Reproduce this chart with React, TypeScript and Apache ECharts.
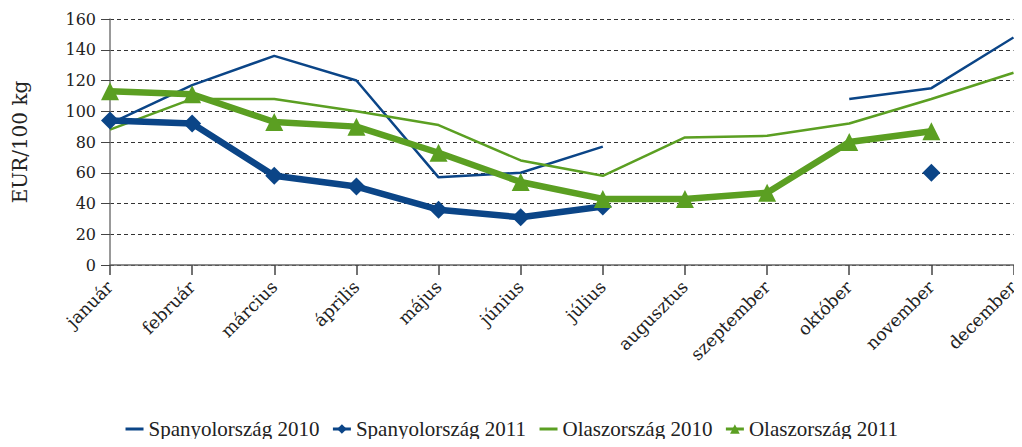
import React, { useEffect, useRef } from "react";
import * as echarts from "echarts";

const months = ["január", "február", "március", "április", "május", "június", "július", "augusztus", "szeptember", "október", "november", "december"];
const spain2010 = [92, 117, 136, 120, 57, 60, 77, null, null, 108, 115, 148];
const spain2011 = [94, 92, 58, 51, 36, 31, 38, null, null, null, 60, null];
const italy2010 = [88, 108, 108, 100, 91, 68, 58, 83, 84, 92, 108, 125];
const italy2011 = [113, 111, 93, 90, 73, 54, 43, 43, 47, 80, 87, null];
const yTicks = { min: 0, max: 160, interval: 20 };

const BLUE = "#0b4587";
const GREEN = "#5b9f22";
const AXIS_FONT = "DejaVu Serif";
const LEGEND_FONT = "Liberation Serif";

export default function App() {
  const ref = useRef<HTMLDivElement>(null);
  useEffect(() => {
    if (!ref.current) return;
    const chart = echarts.init(ref.current, null, { renderer: "svg" });
    chart.setOption({
      animation: false,
      textStyle: { fontFamily: AXIS_FONT },
      grid: { left: 110, right: 7, top: 19, bottom: 182 },
      legend: {
        top: 418,
        left: "center",
        padding: 0,
        itemGap: 12,
        itemWidth: 18,
        itemHeight: 12,
        textStyle: { fontFamily: LEGEND_FONT, fontSize: 21, color: "#222", lineHeight: 22 },
        data: [
          { name: "Spanyolország 2010", itemStyle: { opacity: 0 }, lineStyle: { width: 3 } },
          { name: "Spanyolország 2011", lineStyle: { width: 3 } },
          { name: "Olaszország 2010", itemStyle: { opacity: 0 }, lineStyle: { width: 3 } },
          { name: "Olaszország 2011", lineStyle: { width: 3 } },
        ],
      },
      xAxis: {
        type: "category",
        data: months,
        boundaryGap: false,
        axisLine: { lineStyle: { color: "#666", width: 1.5 } },
        axisTick: { alignWithLabel: true, length: 10, lineStyle: { color: "#444", width: 1.5 } },
        axisLabel: { rotate: 45, fontFamily: AXIS_FONT, fontSize: 17.5, color: "#222", margin: 19, interval: 0 },
      },
      yAxis: {
        type: "value",
        min: yTicks.min,
        max: yTicks.max,
        interval: yTicks.interval,
        name: "EUR/100 kg",
        nameLocation: "middle",
        nameGap: 80,
        nameTextStyle: { fontFamily: AXIS_FONT, fontSize: 20, color: "#222" },
        axisLine: { show: true, lineStyle: { color: "#777", width: 1.5 } },
        axisTick: { show: true, length: 9, lineStyle: { color: "#444" } },
        axisLabel: { fontFamily: AXIS_FONT, fontSize: 16, color: "#222", margin: 14 },
        splitLine: { lineStyle: { color: "#333", type: [4, 3], width: 1 } },
      },
      series: [
        {
          name: "Spanyolország 2010",
          type: "line",
          data: spain2010,
          symbol: "none",
          lineStyle: { color: BLUE, width: 2.5 },
          itemStyle: { color: BLUE },
          connectNulls: false,
          z: 2,
        },
        {
          name: "Spanyolország 2011",
          type: "line",
          data: spain2011,
          symbol: "diamond",
          symbolSize: 18,
          showAllSymbol: true,
          lineStyle: { color: BLUE, width: 6.5 },
          itemStyle: { color: BLUE },
          connectNulls: false,
          z: 4,
        },
        {
          name: "Olaszország 2010",
          type: "line",
          data: italy2010,
          symbol: "none",
          lineStyle: { color: GREEN, width: 2.5 },
          itemStyle: { color: GREEN },
          z: 3,
        },
        {
          name: "Olaszország 2011",
          type: "line",
          data: italy2011,
          symbol: "triangle",
          symbolSize: 18,
          showAllSymbol: true,
          lineStyle: { color: GREEN, width: 6.5 },
          itemStyle: { color: GREEN },
          z: 5,
        },
      ],
    });
    return () => chart.dispose();
  }, []);
  return <div ref={ref} style={{ width: 1022, height: 447, margin: -8 }} />;
}
